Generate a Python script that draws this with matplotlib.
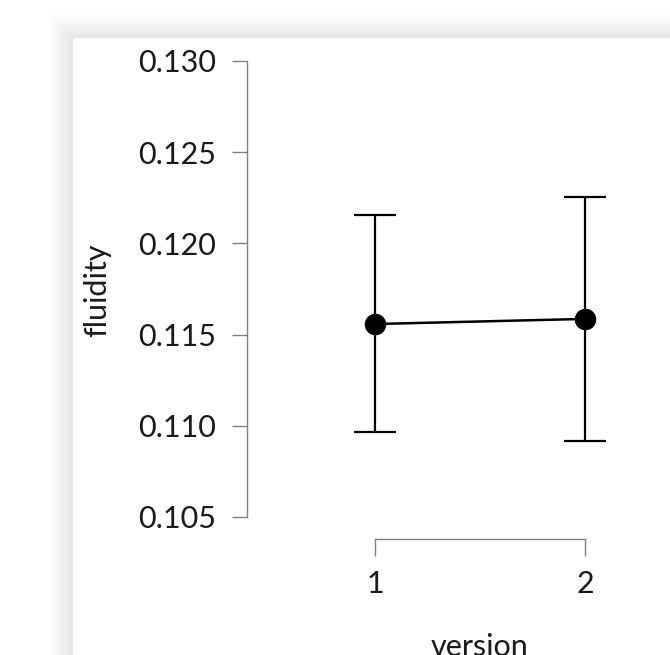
import matplotlib
matplotlib.use("Agg")
import matplotlib.pyplot as plt
from matplotlib.patches import Rectangle

plt.rcParams['font.family'] = ['Lato', 'DejaVu Sans']

versions = [1, 2]
means = [0.11558, 0.11586]
upper = [0.12156, 0.12254]
lower = [0.10966, 0.10917]
yticks = [0.105, 0.110, 0.115, 0.120, 0.125, 0.130]

W, H = 670, 655
fig = plt.figure(figsize=(W / 100, H / 100), dpi=100)
fig.patch.set_facecolor('white')

def px(x0, y0, w, h):
    return (x0 / W, 1 - (y0 + h) / H, w / W, h / H)

# soft card shadow
n = 12
for i in range(n):
    off = 24 - i * 2
    l, b, w, h = px(73 - off, 38 - off, W + 40, H + 40)
    fig.patches.append(Rectangle((l, b), w, h, transform=fig.transFigure,
                                 facecolor='black', alpha=0.006, edgecolor='none', zorder=0))
l, b, w, h = px(73, 38, W, H)
fig.patches.append(Rectangle((l, b), w, h, transform=fig.transFigure,
                             facecolor='white', edgecolor='none', zorder=1))

ax = fig.add_axes(px(247, 50, 670 - 247, 539 - 50))
ax.set_facecolor('none')
ax.set_zorder(2)

yerr = [[m - lo for m, lo in zip(means, lower)], [u - m for m, u in zip(means, upper)]]
ax.errorbar(versions, means, yerr=yerr, fmt='none', ecolor='black', elinewidth=1.6,
            capsize=15, capthick=1.6, zorder=2)
ax.plot(versions, means, color='black', lw=1.8, marker='o', markersize=14.5, zorder=3)

ax.set_xlim(1 - 128 / 210, 2 + 85 / 210)
ax.set_ylim(0.130 - 478 / 91.2 * 0.005, 0.130 + 11 / 91.2 * 0.005)

for s in ['top', 'right']:
    ax.spines[s].set_visible(False)
ax.spines['left'].set_bounds(0.105, 0.130)
ax.spines['bottom'].set_bounds(1, 2)
for s in ['left', 'bottom']:
    ax.spines[s].set_color('#808080')
    ax.spines[s].set_linewidth(1.0)

ax.set_yticks(yticks)
ax.set_yticklabels([f"{v:.3f}" for v in yticks])
ax.set_xticks(versions)
ax.set_xticklabels([str(v) for v in versions])
ax.tick_params(axis='y', direction='out', length=11, width=1.0, color='#808080',
               labelsize=22, labelcolor='#1a1a1a', pad=11)
ax.tick_params(axis='x', direction='out', length=12.5, width=1.0, color='#808080',
               labelsize=22, labelcolor='#1a1a1a', pad=10)

fig.text(97 / W, 1 - 290 / H, 'fluidity', rotation=90, ha='center', va='center',
         fontsize=22, color='#1a1a1a', zorder=3)
fig.text(480 / W, 1 - 647 / H, 'version', ha='center', va='center',
         fontsize=22, color='#1a1a1a', zorder=3)

fig.savefig('out.png', dpi=100)
